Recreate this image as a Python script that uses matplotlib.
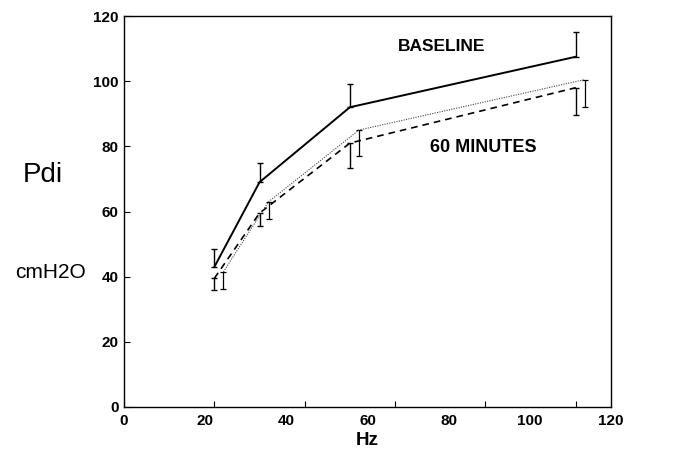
import numpy as np
import matplotlib.pyplot as plt

plt.rcParams['font.family'] = ['Liberation Sans', 'DejaVu Sans']

# data (Hz vs Pdi, cmH2O)
hz_base = [20, 30, 50, 100]
pdi_base = [43, 69, 92, 107.5]
err_base = [5.5, 6, 7, 7.5]          # bars drawn upward only

hz_dash = [20, 30, 50, 100]
pdi_dash = [39.5, 59.5, 81, 98]
err_dash = [3.7, 4, 7.5, 8.5]        # bars drawn downward only

hz_dot = [22, 32, 52, 102]
pdi_dot = [41.5, 63, 85, 100.5]
err_dot = [5.4, 5.2, 8, 8.4]

x_ticks = [0, 20, 40, 60, 80, 100]
x_labels = [0, 20, 40, 60, 80, 100, 120]
y_ticks = [0, 20, 40, 60, 80, 100, 120]

fig = plt.figure(figsize=(6.78, 4.55), dpi=100)
ax = fig.add_axes([0.1829, 0.1055, 0.7183, 0.8593])

z = np.zeros(4)
ax.errorbar(hz_base, pdi_base, yerr=[z, err_base], color='black', lw=1.4,
            elinewidth=1.0, capsize=2.5, capthick=1.0)
ax.errorbar(hz_dash, pdi_dash, yerr=[err_dash, z], color='black', lw=1.2,
            ls=(0, (4, 3)), elinewidth=1.0, capsize=2.5, capthick=1.0)
ax.errorbar(hz_dot, pdi_dot, yerr=[err_dot, z], color='#444444', lw=0.8,
            ls=(0, (1, 1.2)), elinewidth=0.9, capsize=2.5, capthick=0.9,
            ecolor='black')

xmax = 107.8
ax.set_xlim(0, xmax)
ax.set_ylim(0, 120)
ax.set_xticks(x_ticks)
ax.set_xticklabels([])
ax.set_yticks(y_ticks)
ax.tick_params(direction='in', length=4, width=0.8, labelsize=11)
ax.tick_params(axis='y', pad=4)
for t in ax.get_yticklabels():
    t.set_fontweight('bold')

# the printed x labels are spaced a little tighter than the tick marks
sec = ax.secondary_xaxis('bottom', functions=(lambda v: v * 120 / xmax,
                                              lambda v: v * xmax / 120))
sec.set_xticks(x_labels)
sec.tick_params(length=0, pad=5, labelsize=11)
for t in sec.get_xticklabels():
    t.set_fontweight('bold')
sec.spines['bottom'].set_visible(False)
sec.set_xlabel('Hz', fontsize=13.5, fontweight='bold', labelpad=3)

for s in ax.spines.values():
    s.set_linewidth(1.0)

ax.text(70.3, 110.5, 'BASELINE', fontsize=12.5, fontweight='bold', ha='center', va='center')
ax.text(79.5, 79.5, '60 MINUTES', fontsize=13, fontweight='bold', ha='center', va='center')

fig.text(43 / 678, 1 - 175 / 455, 'Pdi', fontsize=20, ha='center', va='center')
fig.text(50 / 678, 1 - 272 / 455, 'cmH2O', fontsize=15, ha='center', va='center')

fig.savefig('out.png', dpi=100)
